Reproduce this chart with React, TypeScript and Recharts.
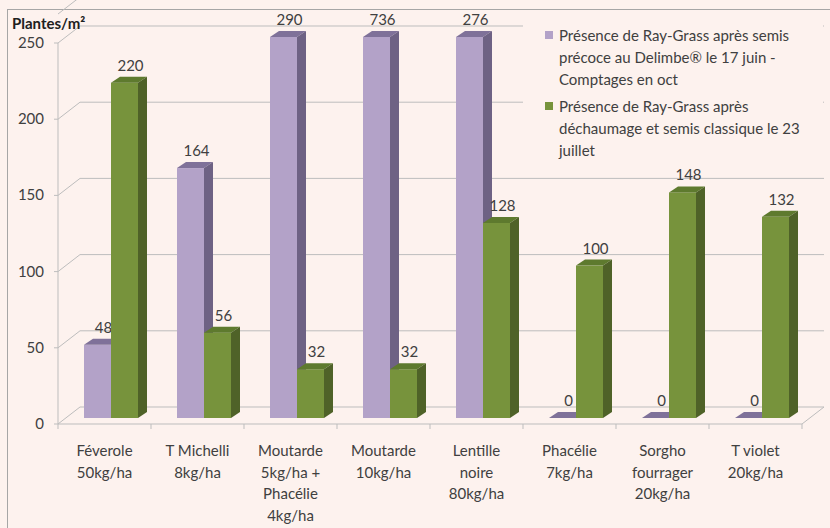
import React from "react";
import {
  BarChart,
  Bar,
  XAxis,
  YAxis,
  CartesianGrid,
  ReferenceArea,
  Legend,
} from "recharts";

const categories = [
  "Féverole\n50kg/ha",
  "T Michelli\n8kg/ha",
  "Moutarde\n5kg/ha +\nPhacélie\n4kg/ha",
  "Moutarde\n10kg/ha",
  "Lentille\nnoire\n80kg/ha",
  "Phacélie\n7kg/ha",
  "Sorgho\nfourrager\n20kg/ha",
  "T violet\n20kg/ha",
];
const earlySowing = [48, 164, 290, 736, 276, 0, 0, 0];
const classicSowing = [220, 56, 32, 32, 128, 100, 148, 132];
const yTicks = [0, 50, 100, 150, 200, 250];
const seriesNames = [
  "Présence de Ray-Grass après semis précoce au Delimbe® le 17 juin - Comptages en oct",
  "Présence de Ray-Grass après déchaumage et semis classique le 23 juillet",
];

const data = categories.map((c, i) => ({
  category: c,
  early: earlySowing[i],
  classic: classicSowing[i],
}));

const BG = "#FDF2EE";
const GRID = "#BDBDBD";
const TEXT = "#404040";
const FONT = "Lato, 'Open Sans', sans-serif";
const MAX = yTicks[yTicks.length - 1];

// offsets of the front plane and of the back wall, relative to the bar plane
const FX = -6, FY = 6;
const BX = 16, BY = -11;
// bar depth
const DX = 9, DY = 6;

const makeBar = (front: string, top: string, side: string) => (props: any) => {
  const { x, width, value } = props;
  let { y, height } = props;
  // values above the axis are cut at the top of the axis, like the original
  if (value > MAX) {
    const h = (MAX * height) / value;
    y = y + height - h;
    height = h;
  }
  return (
    <g>
      <rect x={x} y={y} width={width} height={height} fill={front} />
      <polygon
        points={`${x},${y} ${x + DX},${y - DY} ${x + width + DX},${y - DY} ${x + width},${y}`}
        fill={top}
      />
      <polygon
        points={`${x + width},${y} ${x + width + DX},${y - DY} ${x + width + DX},${y + height - DY} ${x + width},${y + height}`}
        fill={side}
      />
      <text
        x={x + width / 2 + 6}
        y={y - 12}
        textAnchor="middle"
        fontFamily={FONT}
        fontSize={15}
        fill={TEXT}
      >
        {value}
      </text>
    </g>
  );
};

const EarlyBar = makeBar("#B3A2C8", "#7F7199", "#6E6284");
const ClassicBar = makeBar("#77933C", "#5E7A2E", "#4F6228");

const YTick = (props: any) => {
  const { x, y, payload } = props;
  return (
    <g>
      <line x1={x + FX - 4} y1={y + FY} x2={x + FX} y2={y + FY} stroke={GRID} />
      <text
        x={x + FX - 14}
        y={y + FY + 5}
        textAnchor="end"
        fontFamily={FONT}
        fontSize={15}
        fill={TEXT}
      >
        {payload.value}
      </text>
    </g>
  );
};

const XTick = (props: any) => {
  const { x, y, payload } = props;
  const lines = String(payload.value).split("\n");
  return (
    <text
      x={x + FX}
      y={y}
      textAnchor="middle"
      fontFamily={FONT}
      fontSize={15}
      fill={TEXT}
    >
      {lines.map((l, i) => (
        <tspan key={i} x={x + FX} y={y + 36 + i * 21.5}>
          {l}
        </tspan>
      ))}
    </text>
  );
};

const gridLine = (props: any) => {
  const { x1, y1, x2, key } = props;
  return (
    <g key={key}>
      <line x1={x1 + BX} y1={y1 + BY} x2={x2 + BX} y2={y1 + BY} stroke={GRID} />
      <line x1={x1 + FX} y1={y1 + FY} x2={x1 + BX} y2={y1 + BY} stroke={GRID} />
    </g>
  );
};

const Frame = (props: any) => {
  const { x, y, width, height } = props;
  const n = categories.length;
  const bottom = y + height + FY;
  return (
    <g>
      <line x1={x + FX} y1={y + FY} x2={x + FX} y2={bottom} stroke={GRID} />
      <line x1={x + FX} y1={bottom} x2={x + width + FX} y2={bottom} stroke={GRID} />
      <line
        x1={x + width + FX}
        y1={bottom}
        x2={x + width + BX}
        y2={y + height + BY}
        stroke={GRID}
      />
      {Array.from({ length: n + 1 }, (_, i) => (
        <line
          key={i}
          x1={x + FX + (i * width) / n}
          y1={bottom}
          x2={x + FX + (i * width) / n}
          y2={bottom + 5}
          stroke={GRID}
        />
      ))}
    </g>
  );
};

const LegendContent = (props: any) => {
  const items = [...(props.payload || [])].sort(
    (a: any, b: any) => seriesNames.indexOf(a.value) - seriesNames.indexOf(b.value)
  );
  return (
    <div
      style={{
        background: BG,
        paddingTop: 6,
        paddingLeft: 22,
        fontFamily: FONT,
        fontSize: 15,
        color: TEXT,
        lineHeight: "22px",
      }}
    >
      {items.map((entry: any, i: number) => (
        <div key={i} style={{ display: "flex", marginTop: i ? 5 : 0 }}>
          <div
            style={{
              width: 8,
              height: 8,
              background: entry.color,
              marginTop: 7,
              marginRight: 6,
              flex: "none",
            }}
          />
          <div style={{ width: 262 }}>{entry.value}</div>
        </div>
      ))}
    </div>
  );
};

export default function App() {
  return (
    <div
      style={{
        position: "absolute",
        left: 0,
        top: 0,
        width: 830,
        height: 528,
        background: BG,
        overflow: "hidden",
        fontFamily: FONT,
      }}
    >
      <style>{".recharts-wrapper g[clip-path] { clip-path: none !important; }"}</style>
      <div
        style={{
          position: "absolute",
          left: 7,
          top: 9,
          width: 840,
          height: 540,
          borderTop: "1px solid #A6A6A6",
          borderLeft: "1px solid #A6A6A6",
        }}
      />
      <div
        style={{
          position: "absolute",
          left: 12,
          top: 14,
          fontWeight: "bold",
          fontSize: 15,
          color: "#202020",
          zIndex: 2,
        }}
      >
        Plantes/m²
      </div>
      <div style={{ position: "absolute", left: 0, top: 0 }}>
        <BarChart
          width={830}
          height={528}
          data={data}
          margin={{ top: 8, right: 22, left: 0, bottom: 0 }}
          barGap={0}
        >
          <CartesianGrid vertical={false} horizontal={gridLine} />
          <XAxis
            dataKey="category"
            height={110}
            axisLine={false}
            tickLine={false}
            tickSize={0}
            tick={<XTick />}
            interval={0}
          />
          <YAxis
            width={64}
            domain={[0, MAX]}
            ticks={yTicks}
            allowDataOverflow
            padding={{ top: 29, bottom: 0 }}
            axisLine={false}
            tickLine={false}
            tickSize={0}
            tickMargin={0}
            tick={<YTick />}
          />
          <ReferenceArea y1={0} y2={MAX} shape={Frame} />
          <Legend
            layout="vertical"
            align="center"
            verticalAlign="middle"
            itemSorter={(item: any) => seriesNames.indexOf(item.value)}
            wrapperStyle={{ left: 523, top: 18, width: 300 }}
            content={<LegendContent />}
          />
          <Bar
            dataKey="early"
            name={seriesNames[0]}
            fill="#B3A2C8"
            barSize={27}
            shape={EarlyBar}
            isAnimationActive={false}
          />
          <Bar
            dataKey="classic"
            name={seriesNames[1]}
            fill="#77933C"
            barSize={27}
            shape={ClassicBar}
            isAnimationActive={false}
          />
        </BarChart>
      </div>
    </div>
  );
}
